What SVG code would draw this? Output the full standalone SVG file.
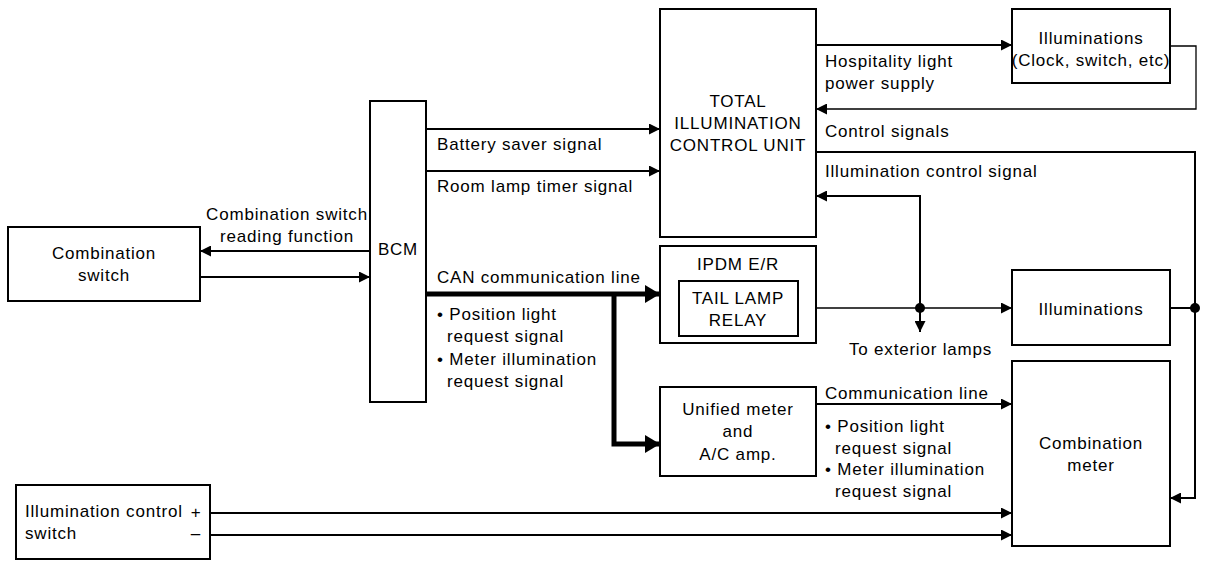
<svg xmlns="http://www.w3.org/2000/svg" width="1216" height="582" viewBox="0 0 1216 582">
<style>
.box{fill:#fff;stroke:#000;stroke-width:2}
.ln{fill:none;stroke:#000;stroke-width:2}
.thin{fill:none;stroke:#000;stroke-width:1.3}
.thick{fill:none;stroke:#000;stroke-width:5}
text{font-family:"Liberation Sans",Arial,sans-serif;font-size:17px;letter-spacing:0.8px;fill:#000}
.c{text-anchor:middle}
</style>
<defs>
<marker id="a" markerUnits="userSpaceOnUse" markerWidth="11" markerHeight="11" refX="11" refY="5.5" orient="auto"><path d="M0,0 L11,5.5 L0,11 z" fill="#000"/></marker>
<marker id="b" markerUnits="userSpaceOnUse" markerWidth="15" markerHeight="18" refX="15" refY="9" orient="auto"><path d="M0,0 L15,9 L0,18 z" fill="#000"/></marker>
</defs>
<rect width="1216" height="582" fill="#fff"/>
<g id="connectors">
<path class="ln" d="M370,251 L200,251" marker-end="url(#a)"/>
<path class="ln" d="M200,277 L370,277" marker-end="url(#a)"/>
<path class="ln" d="M426,129 L660,129" marker-end="url(#a)"/>
<path class="ln" d="M426,171 L660,171" marker-end="url(#a)"/>
<path class="thick" d="M426,294 L660,294" marker-end="url(#b)"/>
<path class="thick" d="M614,294 L614,444 L660,444" marker-end="url(#b)"/>
<path class="ln" d="M816,45 L1012,45" marker-end="url(#a)"/>
<path class="thin" d="M1170,46 L1196,46 L1196,109 L816,109" marker-end="url(#a)"/>
<path class="ln" d="M816,152 L1195,152 L1195,498 L1170,498" marker-end="url(#a)"/>
<path class="ln" d="M1170,308 L1195,308"/>
<path class="thin" d="M798,308 L1012,308" marker-end="url(#a)"/>
<path class="ln" d="M920,308 L920,196 L816,196" marker-end="url(#a)"/>
<path class="ln" d="M920,308 L920,332" marker-end="url(#a)"/>
<circle cx="920" cy="308" r="5" fill="#000"/>
<circle cx="1195" cy="308" r="5" fill="#000"/>
<path class="ln" d="M816,404 L1012,404" stroke-width="2.5" marker-end="url(#a)"/>
<path class="ln" d="M210,513 L1012,513" marker-end="url(#a)"/>
<path class="ln" d="M210,535 L1012,535" marker-end="url(#a)"/>
<text x="287" y="220" class="c">Combination switch</text>
<text x="287" y="242" class="c">reading function</text>
<text x="437" y="150">Battery saver signal</text>
<text x="437" y="192">Room lamp timer signal</text>
<text x="437" y="283">CAN communication line</text>
<text x="437" y="320">• Position light</text>
<text x="447" y="342">request signal</text>
<text x="437" y="365">• Meter illumination</text>
<text x="447" y="387">request signal</text>
<text x="825" y="67">Hospitality light</text>
<text x="825" y="89">power supply</text>
<text x="825" y="137">Control signals</text>
<text x="825" y="177">Illumination control signal</text>
<text x="849" y="355">To exterior lamps</text>
<text x="825" y="399">Communication line</text>
<text x="825" y="432">• Position light</text>
<text x="835" y="454">request signal</text>
<text x="825" y="475">• Meter illumination</text>
<text x="835" y="497">request signal</text>
</g>
<g id="combination-switch">
<rect class="box" x="8" y="227" width="192" height="74"/>
<text x="104" y="259" class="c">Combination</text>
<text x="104" y="281" class="c">switch</text>
</g>
<g id="bcm">
<rect class="box" x="370" y="101" width="56" height="301"/>
<text x="398" y="255" class="c">BCM</text>
</g>
<g id="ticu">
<rect class="box" x="660" y="9" width="156" height="228"/>
<text x="738" y="107" class="c">TOTAL</text>
<text x="738" y="129" class="c">ILLUMINATION</text>
<text x="738" y="151" class="c">CONTROL UNIT</text>
</g>
<g id="ipdm">
<rect class="box" x="660" y="246" width="156" height="97"/>
<text x="738" y="270" class="c">IPDM E/R</text>
<rect class="box" x="679" y="281" width="119" height="55"/>
<text x="738" y="304" class="c">TAIL LAMP</text>
<text x="738" y="326" class="c">RELAY</text>
</g>
<g id="unified-meter">
<rect class="box" x="660" y="387" width="156" height="89"/>
<text x="738" y="415" class="c">Unified meter</text>
<text x="738" y="437" class="c">and</text>
<text x="738" y="460" class="c">A/C amp.</text>
</g>
<g id="illuminations-top">
<rect class="box" x="1012" y="9" width="158" height="74"/>
<text x="1091" y="44" class="c">Illuminations</text>
<text x="1091" y="66" class="c">(Clock, switch, etc)</text>
</g>
<g id="illuminations">
<rect class="box" x="1012" y="270" width="158" height="75"/>
<text x="1091" y="315" class="c">Illuminations</text>
</g>
<g id="combination-meter">
<rect class="box" x="1012" y="361" width="158" height="185"/>
<text x="1091" y="449" class="c">Combination</text>
<text x="1091" y="471" class="c">meter</text>
</g>
<g id="illumination-control-switch">
<rect class="box" x="16" y="485" width="194" height="74"/>
<text x="25" y="517">Illumination control</text>
<text x="25" y="539">switch</text>
<text x="196" y="518" class="c">+</text>
<text x="196" y="539" class="c">–</text>
</g>
</svg>
